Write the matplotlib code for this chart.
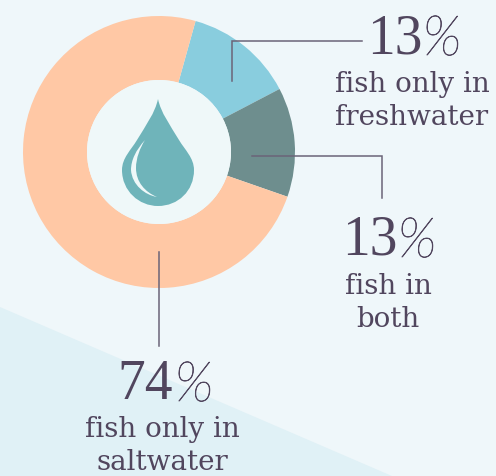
import matplotlib
matplotlib.use('Agg')
import matplotlib.pyplot as plt
import matplotlib.patheffects as pe
from matplotlib.path import Path
from matplotlib.patches import PathPatch, Polygon, Circle

shares = [13, 13, 74]
share_colors = ['#89CDDE', '#6E8E8E', '#FFC8A5']
percents = ['13', '13', '74']
captions = ['fish only in\nfreshwater', 'fish in\nboth', 'fish only in\nsaltwater']

INK = '#51465E'
H = 477


def py(y):
    return H - y - 1


fig = plt.figure(figsize=(4.96, 4.77), dpi=100)
ax = fig.add_axes([0, 0, 1, 1])
ax.set_facecolor('#EFF7FA')

# lighter band along the bottom left
ax.add_patch(Polygon([(0, py(307)), (392, py(476)), (392, 0), (0, 0)], color='#E0F1F6', lw=0))

ax.pie(shares, colors=share_colors, startangle=74.4, counterclock=False,
       center=(159, py(152)), radius=136, frame=True,
       wedgeprops={'width': 64, 'linewidth': 0})
ax.add_patch(Circle((159, py(152)), 72, color='#EFF8F9', lw=0))

# droplet
M, C, Z = Path.MOVETO, Path.CURVE4, Path.CLOSEPOLY
drop = [(158, 99), (155, 113), (146, 125), (137, 140), (131, 150), (122, 158), (122, 170),
        (122, 191), (139, 206), (158, 206), (178, 206), (194, 191), (194, 170),
        (194, 158), (185, 150), (179, 140), (170, 125), (161, 113), (158, 99), (158, 99)]
drop = [(x, py(y)) for x, y in drop]
ax.add_patch(PathPatch(Path(drop, [M] + [C] * 18 + [Z]), fc='#6FB4BA', lw=0))
shine = [(145, 140), (136, 150), (131, 160), (131, 170), (132, 185), (145, 195), (157, 197),
         (145, 192), (136, 182), (136, 168), (136, 158), (140, 148), (145, 140), (145, 140)]
shine = [(x, py(y)) for x, y in shine]
ax.add_patch(PathPatch(Path(shine, [M] + [C] * 12 + [Z]), fc='#EFF8F9', lw=0))

# leader lines
leaders = [([232, 232, 362], [81, 41, 41]),
           ([252, 382, 382], [156, 156, 198]),
           ([159, 159], [252, 346])]
for xs, ys in leaders:
    ax.plot(xs, [py(y) for y in ys], color='#6B6478', lw=1.1, solid_joinstyle='miter')

# number, percent sign and caption for each share
number_pos = [(395, 52), (370, 254), (145, 398)]
percent_pos = [(442, 55), (417, 257), (194, 401)]
caption_pos = [(412, 100), (388, 302), (162, 445)]
for i in range(3):
    ax.text(number_pos[i][0], py(number_pos[i][1]), percents[i], family='Liberation Serif',
            fontsize=40, color=INK, ha='center', va='baseline')
    pct = ax.text(percent_pos[i][0], py(percent_pos[i][1]), '%', family='Lato', weight='light',
                  style='italic', fontsize=40, color=INK, ha='center', va='baseline')
    pct.set_path_effects([pe.withStroke(linewidth=0.5, foreground=INK)])
    ax.text(caption_pos[i][0], py(caption_pos[i][1]), captions[i], family='DejaVu Serif',
            fontsize=20, color=INK, ha='center', va='center', linespacing=1.3)

ax.set_xlim(0, 496)
ax.set_ylim(0, H)
ax.set_aspect('auto')
ax.set_xticks([])
ax.set_yticks([])
for s in ax.spines.values():
    s.set_visible(False)

fig.savefig('out.png', dpi=100)
